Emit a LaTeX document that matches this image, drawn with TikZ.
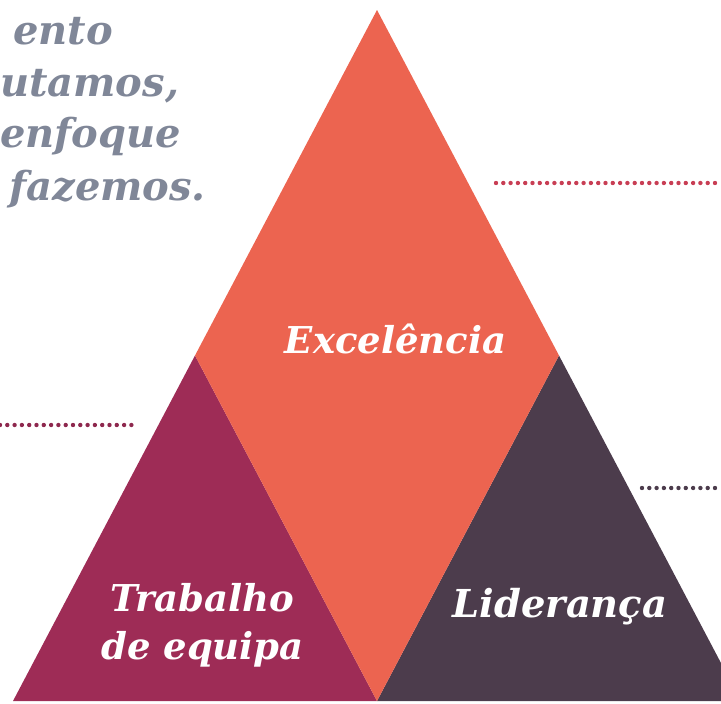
\documentclass[tikz,border=0pt]{standalone}
\usepackage{fontspec}
\setmainfont{DejaVu Serif}
\usepackage{xcolor}
\usepackage{tikz}
\usetikzlibrary{positioning}

\definecolor{salmon}{RGB}{236,100,80}
\definecolor{wine}{RGB}{158,44,86}
\definecolor{plum}{RGB}{76,60,76}
\definecolor{slate}{RGB}{128,135,152}
\definecolor{crimson}{RGB}{200,62,84}

\begin{document}
\begin{tikzpicture}[x=1pt, y=-1pt,
    label/.style={font=\bfseries\itshape\fontsize{37}{48}\selectfont, text=white, align=center, inner sep=0pt, anchor=base},
    quote/.style={font=\bfseries\itshape\fontsize{40}{46}\selectfont, text=slate, anchor=base west, inner sep=0pt},
    dotline/.style={line width=4.4pt, line cap=round, dash pattern=on 0pt off 7.3pt}]
    \useasboundingbox (0,0) rectangle (721,704);
    \clip (0,0) rectangle (721,704);

    % corners of the big triangle and the midpoints of its sides
    \coordinate (apex) at (377,10);
    \coordinate (left) at (13,701);
    \coordinate (right) at (741,701);
    \coordinate (midleft) at (195,355.5);
    \coordinate (midright) at (559,355.5);
    \coordinate (midbase) at (377,701);

    \fill[wine] (left) -- (midleft) -- (midbase) -- cycle;
    \fill[plum] (midbase) -- (midright) -- (right) -- cycle;
    \fill[salmon] (apex) -- (midright) -- (midbase) -- (midleft) -- cycle;

    % text at top left
    \node[quote] (q1) at (13,45) {ento};
    \node[quote] (q2) at (0,96) {utamos,};
    \node[quote] (q3) at (0,147) {enfoque};
    \node[quote] (q4) at (9,200) {fazemos.};

    \node[label] (exc) at (395.5,353) {Excelência};
    \node[label] (team) at (202.5,659) {Trabalho\\de equipa};
    \node[label, font=\bfseries\itshape\fontsize{38.5}{48}\selectfont] (lead) at (560,617) {Liderança};

    % dotted leader lines
    \coordinate (d1a) at (496,183);
    \coordinate (d1b) at (721,183);
    \coordinate (d2a) at (0,425);
    \coordinate (d2b) at (136,425);
    \coordinate (d3a) at (642,488);
    \coordinate (d3b) at (721,488);
    \draw[dotline, crimson] (d1a) -- (d1b);
    \draw[dotline, wine!90!black] (d2a) -- (d2b);
    \draw[dotline, plum] (d3a) -- (d3b);
\end{tikzpicture}
\end{document}
